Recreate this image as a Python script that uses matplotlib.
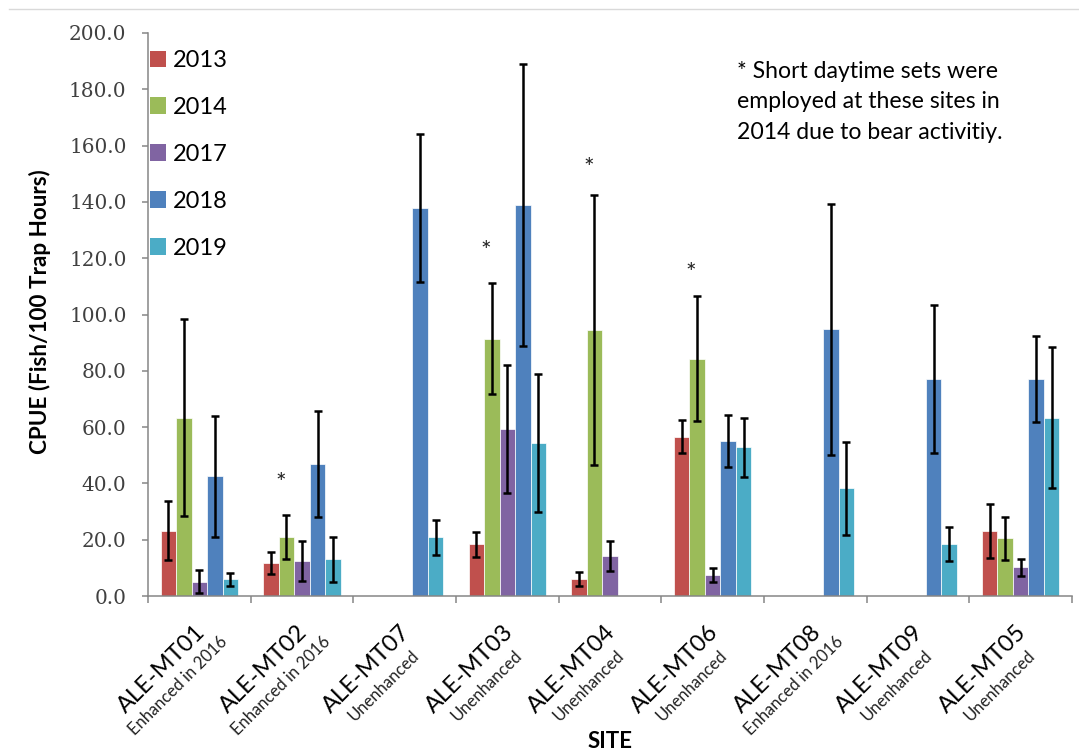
import numpy as np
import matplotlib
matplotlib.use('Agg')
import matplotlib.pyplot as plt
from matplotlib.lines import Line2D
from matplotlib.patches import Patch
import matplotlib.transforms as mtransforms

nan = np.nan

sites = ['ALE-MT01', 'ALE-MT02', 'ALE-MT07', 'ALE-MT03', 'ALE-MT04',
         'ALE-MT06', 'ALE-MT08', 'ALE-MT09', 'ALE-MT05']
status = ['Enhanced in 2016', 'Enhanced in 2016', 'Unenhanced', 'Unenhanced',
          'Unenhanced', 'Unenhanced', 'Enhanced in 2016', 'Unenhanced', 'Unenhanced']
years = ['2013', '2014', '2017', '2018', '2019']

cpue_2013 = [23.2, 11.7, nan, 18.4, 5.9, 56.6, nan, nan, 23.1]
err_2013 = [10.5, 4.0, nan, 4.5, 2.5, 5.9, nan, nan, 9.6]
cpue_2014 = [63.3, 21.1, nan, 91.4, 94.5, 84.3, nan, nan, 20.5]
err_2014 = [35.0, 7.8, nan, 19.7, 47.8, 22.1, nan, nan, 7.6]
cpue_2017 = [5.1, 12.4, nan, 59.3, 14.2, 7.5, nan, nan, 10.2]
err_2017 = [4.1, 7.1, nan, 22.8, 5.3, 2.4, nan, nan, 3.1]
cpue_2018 = [42.6, 46.9, 137.8, 138.9, nan, 55.1, 94.7, 77.0, 77.0]
err_2018 = [21.5, 18.8, 26.3, 50.0, nan, 9.2, 44.5, 26.2, 15.2]
cpue_2019 = [5.9, 13.0, 20.8, 54.2, nan, 52.8, 38.2, 18.5, 63.3]
err_2019 = [2.4, 8.0, 6.1, 24.5, nan, 10.4, 16.4, 5.9, 25.0]

# sites with short daytime sets in 2014 (asterisk above the 2014 bar)
star_sites = [1, 3, 4, 5]
star_y = [39.8, 122.5, 151.7, 114.6]

note = '* Short daytime sets were\nemployed at these sites in\n2014 due to bear activitiy.'

values = [cpue_2013, cpue_2014, cpue_2017, cpue_2018, cpue_2019]
errors = [err_2013, err_2014, err_2017, err_2018, err_2019]
colors = ['#C0504D', '#9BBB59', '#8064A2', '#4F81BD', '#4BACC6']

sans = ['Lato', 'DejaVu Sans']
axis_gray = '#868686'

fig = plt.figure(figsize=(10.79, 7.54), dpi=100)
ax = fig.add_axes([148/1079, 1-596/754, 924/1079, 563/754])

x = np.arange(len(sites))
w = 0.151
for k in range(5):
    xs = x + (k - 2) * w
    ax.bar(xs, values[k], width=w, color=colors[k], edgecolor='white',
           linewidth=0.5, label=years[k], zorder=2)
    ax.errorbar(xs, values[k], yerr=errors[k], fmt='none', ecolor='black',
                elinewidth=1.8, capsize=3.2, capthick=1.8, zorder=3)

for i, yv in zip(star_sites, star_y):
    ax.text(i - 1.4 * w, yv, '*', ha='center', va='center',
            fontsize=18, family=sans, color='#222222')

ax.set_xlim(-0.5, len(sites) - 0.5)
ax.set_ylim(0, 200)
ax.set_yticks(np.arange(0, 201, 20))
ax.yaxis.set_major_formatter(matplotlib.ticker.FormatStrFormatter('%.1f'))
ax.set_xticks(np.arange(-0.5, len(sites), 1.0))
ax.set_xticklabels([])
ax.tick_params(axis='y', direction='out', length=4.5, width=1.1, color=axis_gray,
               labelsize=14.4, labelcolor='#404040', pad=11)
ax.tick_params(axis='x', direction='out', length=5, width=1.1, color=axis_gray)
for lab in ax.get_yticklabels():
    lab.set_family('DejaVu Serif')
for s in ['top', 'right']:
    ax.spines[s].set_visible(False)
for s in ['left', 'bottom']:
    ax.spines[s].set_color(axis_gray)
    ax.spines[s].set_linewidth(1.1)

# two-line rotated site labels
trans = mtransforms.blended_transform_factory(ax.transData, ax.transAxes)
for i in range(len(sites)):
    ax.annotate(sites[i], xy=(x[i], 0), xycoords=trans, xytext=(-38, -73),
                textcoords='offset pixels', rotation=45, rotation_mode='anchor',
                ha='center', va='center', fontsize=17, family=sans)
    ax.annotate(status[i], xy=(x[i], 0), xycoords=trans, xytext=(-21, -90),
                textcoords='offset pixels', rotation=45, rotation_mode='anchor',
                ha='center', va='center', fontsize=12, family=sans, color='#222222')

handles = [Patch(facecolor=c, edgecolor='none') for c in colors]
ax.legend(handles, years, loc='upper left', bbox_to_anchor=(0.002, 0.970),
          frameon=False, prop={'family': sans, 'size': 17},
          handlelength=0.68, handleheight=0.68, handletextpad=0.3,
          labelspacing=1.1, borderaxespad=0, borderpad=0)

fig.text(737/1079, 1-102/754, note, ha='left', va='center', fontsize=16.6,
         family=sans, linespacing=1.55)

fig.text(40/1079, 1-312/754, 'CPUE (Fish/100 Trap Hours)', rotation=90,
         ha='center', va='center', fontsize=16.2, fontweight='bold', family=sans)
fig.text(610/1079, 1-741/754, 'SITE', ha='center', va='center',
         fontsize=16, fontweight='bold', family=sans)

fig.add_artist(Line2D([9/1079, 1], [1-9/754, 1-9/754], color='#D9D9D9',
                      linewidth=1, transform=fig.transFigure))

fig.savefig('out.png', dpi=100)
